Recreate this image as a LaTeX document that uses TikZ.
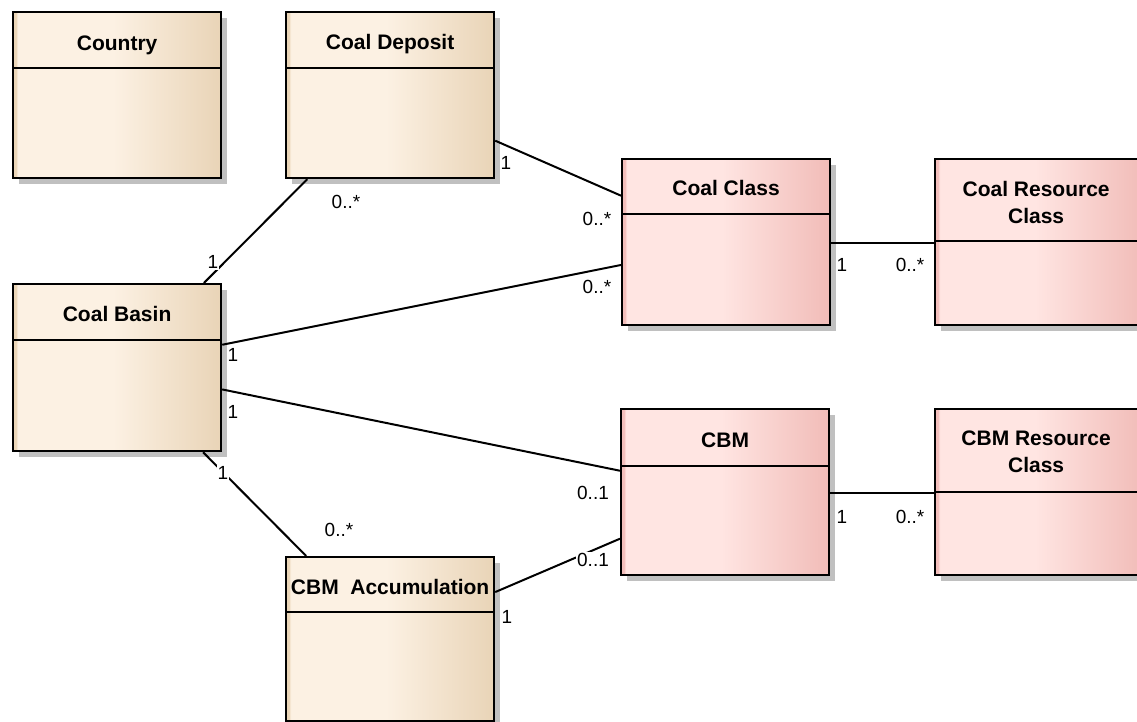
\documentclass[tikz,border=0pt]{standalone}
\usepackage{fontspec}
\setmainfont{Liberation Sans}
\usetikzlibrary{calc,shadows}

% class box colours
\definecolor{tanedge}{HTML}{EBD6B8}
\definecolor{tanlight}{HTML}{FCF1E3}
\definecolor{tandark}{HTML}{E9D4B7}
\definecolor{pinkedge}{HTML}{F2BEBB}
\definecolor{pinklight}{HTML}{FFE5E2}
\definecolor{pinkdark}{HTML}{F1BCB8}
\definecolor{shadowgray}{HTML}{C0C0C0}

% left-to-right gradients with a thin darker strip on the left edge
\pgfdeclarehorizontalshading{tanfill}{100bp}{color(0bp)=(tanedge); color(25bp)=(tanedge); color(25.7bp)=(tanedge); color(26.1bp)=(tanlight); color(49bp)=(tanlight); color(75bp)=(tandark); color(100bp)=(tandark)}
\pgfdeclarehorizontalshading{pinkfill}{100bp}{color(0bp)=(pinkedge); color(25bp)=(pinkedge); color(25.7bp)=(pinkedge); color(26.1bp)=(pinklight); color(49bp)=(pinklight); color(75bp)=(pinkdark); color(100bp)=(pinkdark)}

\begin{document}
\begin{tikzpicture}[x=1pt,y=-1pt,
  cls/.style={draw=black, line width=2.2pt, minimum width=208pt, minimum height=166pt,
    inner sep=0pt, anchor=north west,
    drop shadow={shadow xshift=6pt, shadow yshift=-6pt, fill=shadowgray, opacity=1}},
  tanbox/.style={cls, shading=tanfill},
  pinkbox/.style={cls, shading=pinkfill},
  title/.style={font=\fontsize{21}{27}\selectfont\bfseries, inner sep=0pt, align=center},
  mult/.style={font=\fontsize{19}{21}\selectfont, fill=white, inner sep=1pt},
  assoc/.style={line width=2pt},
  sep/.style={line width=2.2pt}]

\useasboundingbox (0,0) rectangle (1137,722);

% ---- classes ----
\node[tanbox] (country) at (12,11) {};
\node[tanbox] (deposit) at (285,11) {};
\node[pinkbox] (cclass) at (621,158) {};
\node[pinkbox] (res) at (934,158) {};
\node[tanbox, minimum height=167pt] (basin) at (12,283) {};
\node[pinkbox] (cbm) at (620,408) {};
\node[pinkbox] (cbmres) at (934,408) {};
\node[tanbox, minimum height=164pt] (accum) at (285,556) {};

% compartment separators
\draw[sep] ($(country.north west)+(0,57)$) -- ($(country.north east)+(0,57)$);
\draw[sep] ($(deposit.north west)+(0,57)$) -- ($(deposit.north east)+(0,57)$);
\draw[sep] ($(cclass.north west)+(0,56)$) -- ($(cclass.north east)+(0,56)$);
\draw[sep] ($(res.north west)+(0,83)$) -- ($(res.north east)+(0,83)$);
\draw[sep] ($(basin.north west)+(0,57)$) -- ($(basin.north east)+(0,57)$);
\draw[sep] ($(cbm.north west)+(0,58)$) -- ($(cbm.north east)+(0,58)$);
\draw[sep] ($(cbmres.north west)+(0,84)$) -- ($(cbmres.north east)+(0,84)$);
\draw[sep] ($(accum.north west)+(0,56)$) -- ($(accum.north east)+(0,56)$);

% class names
\node[title, anchor=base] (countryT) at ($(country.north)+(0,40)$) {Country};
\node[title, anchor=base] (depositT) at ($(deposit.north)+(0,39)$) {Coal Deposit};
\node[title, anchor=base] (cclassT) at ($(cclass.north)+(0,38)$) {Coal Class};
\node[title, anchor=north] (resT) at ($(res.north)+(-3,23)$) {Coal Resource\\Class};
\node[title, anchor=base] (basinT) at ($(basin.north)+(0,38)$) {Coal Basin};
\node[title, anchor=base] (cbmT) at ($(cbm.north)+(0,39)$) {CBM};
\node[title, anchor=north] (cbmresT) at ($(cbmres.north)+(-3,23)$) {CBM Resource\\Class};
\node[title, anchor=base] (accumT) at ($(accum.north)+(0,38)$) {CBM\ \ Accumulation};

% ---- associations ----
\draw[assoc] ($(deposit.north east)!0.771!(deposit.south east)$) -- ($(cclass.north west)!0.224!(cclass.south west)$);
\draw[assoc] ($(deposit.south west)!0.106!(deposit.south east)$) -- ($(basin.north west)!0.913!(basin.north east)$);
\draw[assoc] ($(basin.north east)!0.365!(basin.south east)$) -- ($(cclass.north west)!0.636!(cclass.south west)$);
\draw[assoc] ($(basin.north east)!0.629!(basin.south east)$) -- ($(cbm.north west)!0.373!(cbm.south west)$);
\draw[assoc] ($(basin.south west)!0.909!(basin.south east)$) -- ($(accum.north west)!0.101!(accum.north east)$);
\draw[assoc] ($(accum.north east)!0.217!(accum.south east)$) -- ($(cbm.north west)!0.777!(cbm.south west)$);
\draw[assoc] ($(cclass.north east)!0.503!(cclass.south east)$) -- ($(res.north west)!0.503!(res.south west)$);
\draw[assoc] ($(cbm.north east)!0.506!(cbm.south east)$) -- ($(cbmres.north west)!0.506!(cbmres.south west)$);

% ---- multiplicities ----
\node[mult] (m1) at (506,163) {1};
\node[mult] (m2) at (597,219) {0..*};
\node[mult] (m3) at (346,202) {0..*};
\node[mult] (m4) at (213,262) {1};
\node[mult] (m5) at (233,355) {1};
\node[mult] (m6) at (597,287) {0..*};
\node[mult] (m7) at (233,412) {1};
\node[mult] (m8) at (593,493) {0..1};
\node[mult] (m9) at (223,473) {1};
\node[mult] (m10) at (339,530) {0..*};
\node[mult] (m11) at (507,617) {1};
\node[mult] (m12) at (593,560) {0..1};
\node[mult] (m13) at (842,265) {1};
\node[mult] (m14) at (910,265) {0..*};
\node[mult] (m15) at (842,517) {1};
\node[mult] (m16) at (910,517) {0..*};
\end{tikzpicture}
\end{document}
